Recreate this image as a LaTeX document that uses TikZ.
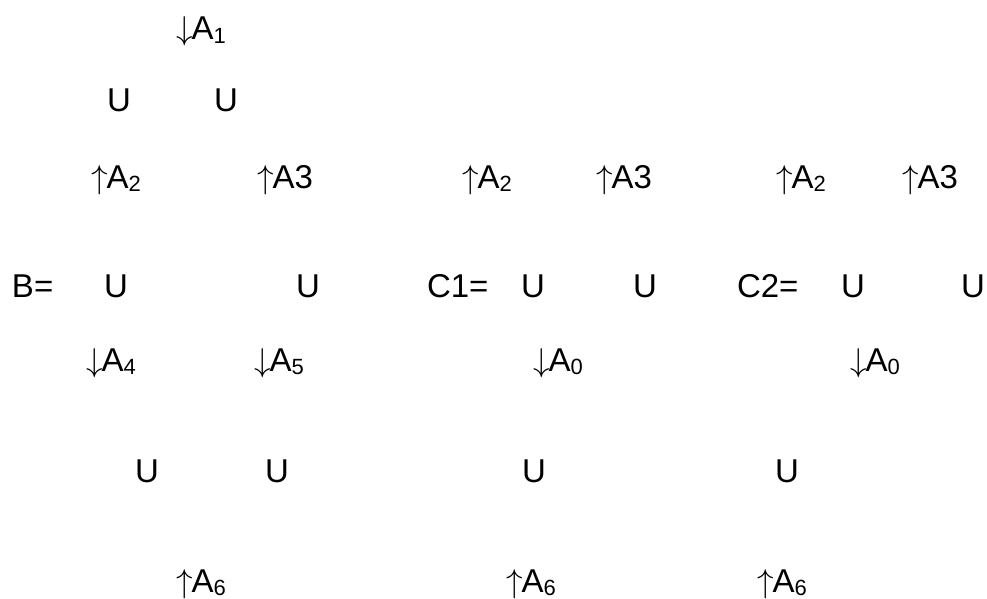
\RequirePackage{fix-cm}
\documentclass[tikz,border=0pt]{standalone}
\usepackage{fontspec}
\setmainfont{Liberation Sans}
\newcommand{\sbs}[1]{\raisebox{-0.12em}{\fontsize{22}{24}\selectfont #1}}
\newcommand{\upar}{$\uparrow$\kern-1pt}
\newcommand{\dnar}{$\downarrow$\kern-1pt}
\begin{document}
\begin{tikzpicture}[x=1pt,y=-1pt,
  lbl/.style={anchor=base west,inner sep=0pt,outer sep=0pt,font=\fontsize{33}{36}\selectfont}]
\useasboundingbox (0,0) rectangle (987,599);
% B
\node[lbl] (a1) at (176,40) {\dnar A\sbs{1}};
\node[lbl] (u1) at (107,112) {U};
\node[lbl] (u2) at (214,112) {U};
\node[lbl] (b2) at (91,188) {\upar A\sbs{2}};
\node[lbl] (b3) at (257,188) {\upar A3};
\node[lbl] (beq) at (12,297) {B=};
\node[lbl] (bu1) at (104,297) {U};
\node[lbl] (bu2) at (296,297) {U};
\node[lbl] (b4) at (86,371) {\dnar A\sbs{4}};
\node[lbl] (b5) at (254,371) {\dnar A\sbs{5}};
\node[lbl] (bu3) at (135,482) {U};
\node[lbl] (bu4) at (265,482) {U};
\node[lbl] (b6) at (176,592) {\upar A\sbs{6}};
% C1
\node[lbl] (c12) at (462,188) {\upar A\sbs{2}};
\node[lbl] (c13) at (596,188) {\upar A3};
\node[lbl] (c1eq) at (427,297) {C1=};
\node[lbl] (c1u1) at (521,297) {U};
\node[lbl] (c1u2) at (633,297) {U};
\node[lbl] (c10) at (533,371) {\dnar A\sbs{0}};
\node[lbl] (c1u3) at (522,482) {U};
\node[lbl] (c16) at (506,592) {\upar A\sbs{6}};
% C2
\node[lbl] (c22) at (776,188) {\upar A\sbs{2}};
\node[lbl] (c23) at (902,188) {\upar A3};
\node[lbl] (c2eq) at (737,297) {C2=};
\node[lbl] (c2u1) at (841,297) {U};
\node[lbl] (c2u2) at (961,297) {U};
\node[lbl] (c20) at (850,371) {\dnar A\sbs{0}};
\node[lbl] (c2u3) at (775,482) {U};
\node[lbl] (c26) at (757,592) {\upar A\sbs{6}};
\end{tikzpicture}
\end{document}
